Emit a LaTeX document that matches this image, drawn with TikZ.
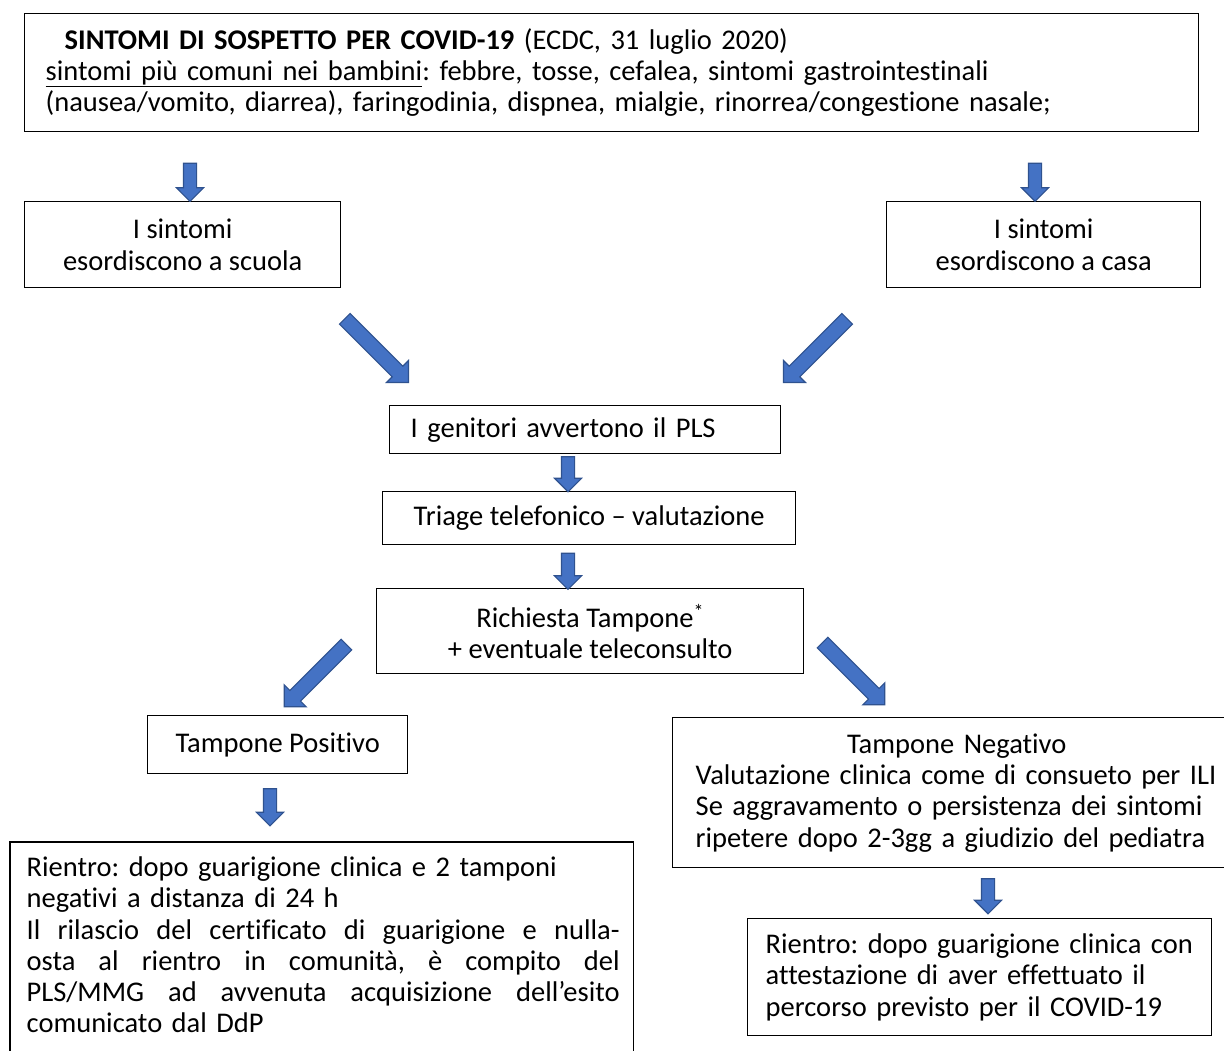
\documentclass[tikz,border=0pt]{standalone}
\usepackage{fontspec}
\setmainfont{Carlito}[Ligatures=NoCommon]
\usetikzlibrary{shapes.arrows}
\definecolor{arrfill}{HTML}{4472C4}
\definecolor{arrdraw}{HTML}{2F528F}
\frenchspacing
\begin{document}
\begin{tikzpicture}[x=1pt,y=-1pt,
  box/.style={draw=black, line width=1.4pt, rectangle, anchor=north west,
    inner sep=0pt, font=\fontsize{28.5}{31.3}\selectfont},
  barrow/.style={single arrow, fill=arrfill, draw=arrdraw, line width=1.1pt,
    inner xsep=0pt, inner ysep=6pt, single arrow head extend=7pt,
    single arrow tip angle=90, anchor=center},
  darrow/.style={barrow, inner ysep=7pt, single arrow head extend=8pt}]
\clip (0,0) rectangle (1224,1050);
\fill[white] (0,0) rectangle (1224,1050);

% boxes
\node[box, minimum width=1174pt, minimum height=118pt, text width=1132pt, align=left] (top) at (24,13)
  {\hspace*{19pt}\textbf{SINTOMI DI SOSPETTO PER COVID-19} (ECDC, 31 luglio 2020)\\
   \underline{sintomi più comuni nei bambini}: febbre, tosse, cefalea, sintomi gastrointestinali\\
   (nausea/vomito, diarrea), faringodinia, dispnea, mialgie, rinorrea/congestione nasale;};

\node[box, minimum width=316pt, minimum height=86pt, align=center] (scuola) at (24,201)
  {I sintomi\\esordiscono a scuola};
\node[box, minimum width=314pt, minimum height=86pt, align=center] (casa) at (886,201)
  {I sintomi\\esordiscono a casa};

\node[box, minimum width=391pt, minimum height=48pt, text width=349pt, align=left] (genitori) at (389,405)
  {I genitori avvertono il PLS};
\node[box, minimum width=413pt, minimum height=53pt, align=center] (triage) at (382,491)
  {Triage telefonico – valutazione};
\node[box, minimum width=427pt, minimum height=85pt, align=center] (richiesta) at (376,588)
  {Richiesta Tampone\textsuperscript{*}\\+ eventuale teleconsulto};

\node[box, minimum width=260pt, minimum height=58pt, align=center] (positivo) at (147,715)
  {Tampone Positivo};
\node[box, minimum width=568pt, minimum height=150pt, text width=522pt, align=left] (negativo) at (672,717)
  {\makebox[522pt]{Tampone Negativo}\\
   Valutazione clinica come di consueto per ILI\\
   Se aggravamento o persistenza dei sintomi\\
   ripetere dopo 2-3gg a giudizio del pediatra};

\node[box, draw=none, minimum width=622pt, text width=596pt, align=left, inner ysep=14pt] (rientroP) at (10,842)
  {\hspace*{3pt}Rientro: dopo guarigione clinica e 2 tamponi\\
   \hspace*{3pt}negativi a distanza di 24 h\\
   \makebox[596pt][s]{\spaceskip=0pt \hspace*{3pt}Il rilascio del certificato di guarigione e nulla-}\\
   \makebox[596pt][s]{\spaceskip=0pt \hspace*{3pt}osta al rientro in comunità, è compito del}\\
   \makebox[596pt][s]{\spaceskip=0pt \hspace*{3pt}PLS/MMG ad avvenuta acquisizione dell’esito}\\
   \hspace*{3pt}comunicato dal DdP};
\draw[line width=1.4pt] (rientroP.north west |- 0,1070) -- (rientroP.north west)
  -- (rientroP.north east) -- (rientroP.north east |- 0,1070);

\node[box, minimum width=464pt, minimum height=117pt, text width=428pt, align=left] (rientroN) at (747,918)
  {Rientro: dopo guarigione clinica con\\
   attestazione di aver effettuato il\\
   percorso previsto per il COVID-19};

% block arrows
\node[barrow, rotate=-90, minimum height=38pt] (a1) at (190,179) {};
\node[barrow, rotate=-90, minimum height=38pt] (a2) at (1035,179) {};
\node[darrow, rotate=-45, minimum height=90pt] (a3) at (374,348) {};
\node[darrow, rotate=-135, minimum height=90pt] (a4) at (818,348) {};
\node[barrow, rotate=-90, minimum height=35pt] (a5) at (568,471) {};
\node[barrow, rotate=-90, minimum height=36pt] (a6) at (568,568) {};
\node[darrow, rotate=-135, minimum height=88pt] (a7) at (318,673) {};
\node[darrow, rotate=-45, minimum height=88pt] (a8) at (851,671) {};
\node[barrow, rotate=-90, minimum height=37pt] (a9) at (270,804) {};
\node[barrow, rotate=-90, minimum height=35pt] (a10) at (988,893) {};
\end{tikzpicture}
\end{document}
